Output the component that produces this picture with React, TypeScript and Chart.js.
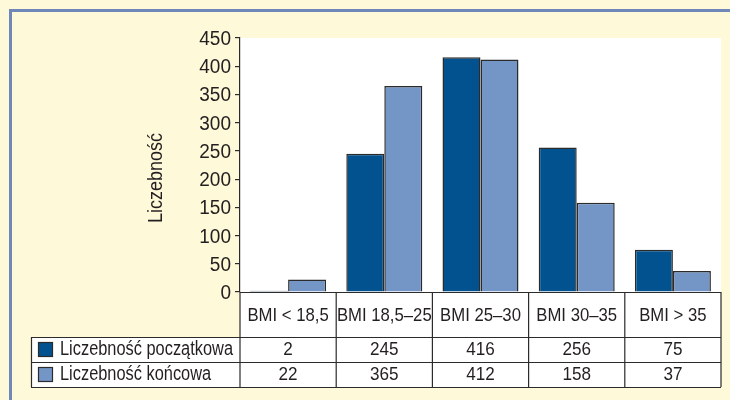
import React, { useEffect, useRef } from "react";
import { Chart, registerables } from "chart.js";

Chart.register(...registerables);

// BMI groups and head counts at the start and end of the programme
const categories = ["BMI < 18,5", "BMI 18,5–25", "BMI 25–30", "BMI 30–35", "BMI > 35"];
const initialCounts = [2, 245, 416, 256, 75];
const finalCounts = [22, 365, 412, 158, 37];
const seriesNames = ["Liczebność początkowa", "Liczebność końcowa"];
const yAxisTitle = "Liczebność";
const yMax = 450;
const yStep = 50;

const FONT = "'Liberation Sans', Arial, sans-serif";
const INK = "#231f20";
const LINE = "#2b2b2b";
const DARK = "#01528f";
const LIGHT = "#7396c6";
const PAGE = "#fef9d8";
const FRAME = "#7087b9";

const HEADER_H = 45;
const ROW_H = 25;
const TABLE_LEFT = 31;

// Draws text in a condensed style by squeezing it horizontally.
function condensed(
  ctx: CanvasRenderingContext2D,
  text: string,
  x: number,
  y: number,
  size: number,
  squeeze: number,
  align: CanvasTextAlign
) {
  ctx.save();
  ctx.translate(x, y);
  ctx.scale(squeeze, 1);
  ctx.font = `${size}px ${FONT}`;
  ctx.textAlign = align;
  ctx.textBaseline = "middle";
  ctx.fillStyle = INK;
  ctx.fillText(text, 0, 0);
  ctx.restore();
}

const tablePlugin = {
  id: "dataTable",
  beforeDraw(chart: any) {
    const { ctx, chartArea: a, width, height } = chart;
    ctx.save();
    ctx.fillStyle = PAGE;
    ctx.fillRect(0, 0, width, height);
    ctx.fillStyle = FRAME;
    ctx.fillRect(9, 9, width - 9, 3);
    ctx.fillRect(9, 9, 3, height - 9);
    ctx.fillStyle = "#ffffff";
    ctx.fillRect(a.left, a.top, a.right - a.left, a.bottom - a.top + HEADER_H);
    ctx.fillRect(TABLE_LEFT, a.bottom + HEADER_H, a.right - TABLE_LEFT, ROW_H * 2);
    ctx.restore();
  },
  afterDraw(chart: any) {
    const { ctx, chartArea: a } = chart;
    const x = chart.scales.x;
    const y = chart.scales.y;
    const n = categories.length;
    const cw = (a.right - a.left) / n;
    const rows = [initialCounts, finalCounts];
    const colors = [DARK, LIGHT];
    const r1 = a.bottom + HEADER_H;
    const bottom = r1 + ROW_H * 2;

    ctx.save();
    ctx.strokeStyle = LINE;
    ctx.lineWidth = 1.2;
    ctx.beginPath();
    // axis base line and row separators
    ctx.moveTo(a.left, a.bottom + 0.5);
    ctx.lineTo(a.right, a.bottom + 0.5);
    for (let r = 0; r <= 2; r++) {
      const yy = r1 + r * ROW_H + 0.5;
      ctx.moveTo(TABLE_LEFT, yy);
      ctx.lineTo(a.right, yy);
    }
    // column separators
    for (let i = 0; i <= n; i++) {
      const bx = i < n ? x.getPixelForValue(i) - cw / 2 : x.getPixelForValue(n - 1) + cw / 2;
      ctx.moveTo(bx, a.bottom);
      ctx.lineTo(bx, bottom);
    }
    ctx.moveTo(TABLE_LEFT + 0.5, r1);
    ctx.lineTo(TABLE_LEFT + 0.5, bottom);
    ctx.stroke();
    ctx.restore();

    // y tick labels
    y.ticks.forEach((t: any) => {
      condensed(ctx, String(t.value), a.left - 9, y.getPixelForValue(t.value) + 1.5, 20, 0.95, "right");
    });

    // category labels in the header row
    categories.forEach((c, i) => {
      condensed(ctx, c, x.getPixelForValue(i), a.bottom + HEADER_H / 2 + 1.5, 19, 0.88, "center");
    });

    rows.forEach((vals, r) => {
      const cy = r1 + r * ROW_H + ROW_H / 2 + 0.5;
      vals.forEach((v, i) => {
        condensed(ctx, String(v), x.getPixelForValue(i), cy, 19, 0.9, "center");
      });
      // legend swatch and series name
      const sy = Math.round(cy - 8);
      ctx.save();
      ctx.fillStyle = colors[r];
      ctx.fillRect(38, sy, 15, 15);
      ctx.strokeStyle = LINE;
      ctx.lineWidth = 1.2;
      ctx.strokeRect(38.5, sy + 0.5, 14, 14);
      ctx.restore();
      condensed(ctx, seriesNames[r], 60, cy, 19.5, 0.84, "left");
    });

    // rotated y-axis title
    ctx.save();
    ctx.translate(a.left - 84, (a.top + a.bottom) / 2 + 13);
    ctx.rotate(-Math.PI / 2);
    condensed(ctx, yAxisTitle, 0, 0, 20, 0.9, "center");
    ctx.restore();
  },
};

export default function App() {
  const ref = useRef<HTMLCanvasElement | null>(null);

  useEffect(() => {
    if (!ref.current) return;
    const chart = new Chart(ref.current, {
      type: "bar",
      data: {
        labels: categories,
        datasets: [
          {
            label: seriesNames[0],
            data: initialCounts,
            backgroundColor: DARK,
            borderColor: LINE,
            borderWidth: 1.5,
          },
          {
            label: seriesNames[1],
            data: finalCounts,
            backgroundColor: LIGHT,
            borderColor: LINE,
            borderWidth: 1.5,
          },
        ],
      },
      options: {
        responsive: false,
        animation: false,
        devicePixelRatio: 1,
        layout: { padding: { top: 38, right: 9, left: 0, bottom: 0 } },
        datasets: { bar: { categoryPercentage: 0.79, barPercentage: 1 } },
        plugins: { legend: { display: false }, tooltip: { enabled: false } },
        scales: {
          x: {
            grid: { display: false, drawTicks: false },
            border: { display: false },
            ticks: { display: false, autoSkip: false },
            afterFit: (s: any) => {
              s.height = 108;
            },
          },
          y: {
            min: 0,
            max: yMax,
            ticks: { display: false, stepSize: yStep },
            grid: { drawOnChartArea: false, drawTicks: true, tickLength: 5, color: LINE, lineWidth: 1.2 },
            border: { display: true, color: LINE, width: 1.2 },
            afterFit: (s: any) => {
              s.width = 240;
            },
          },
        },
      },
      plugins: [tablePlugin],
    });
    return () => chart.destroy();
  }, []);

  return (
    <div style={{ position: "fixed", left: 0, top: 0, width: 730, height: 400 }}>
      <canvas ref={ref} width={730} height={400} />
    </div>
  );
}
